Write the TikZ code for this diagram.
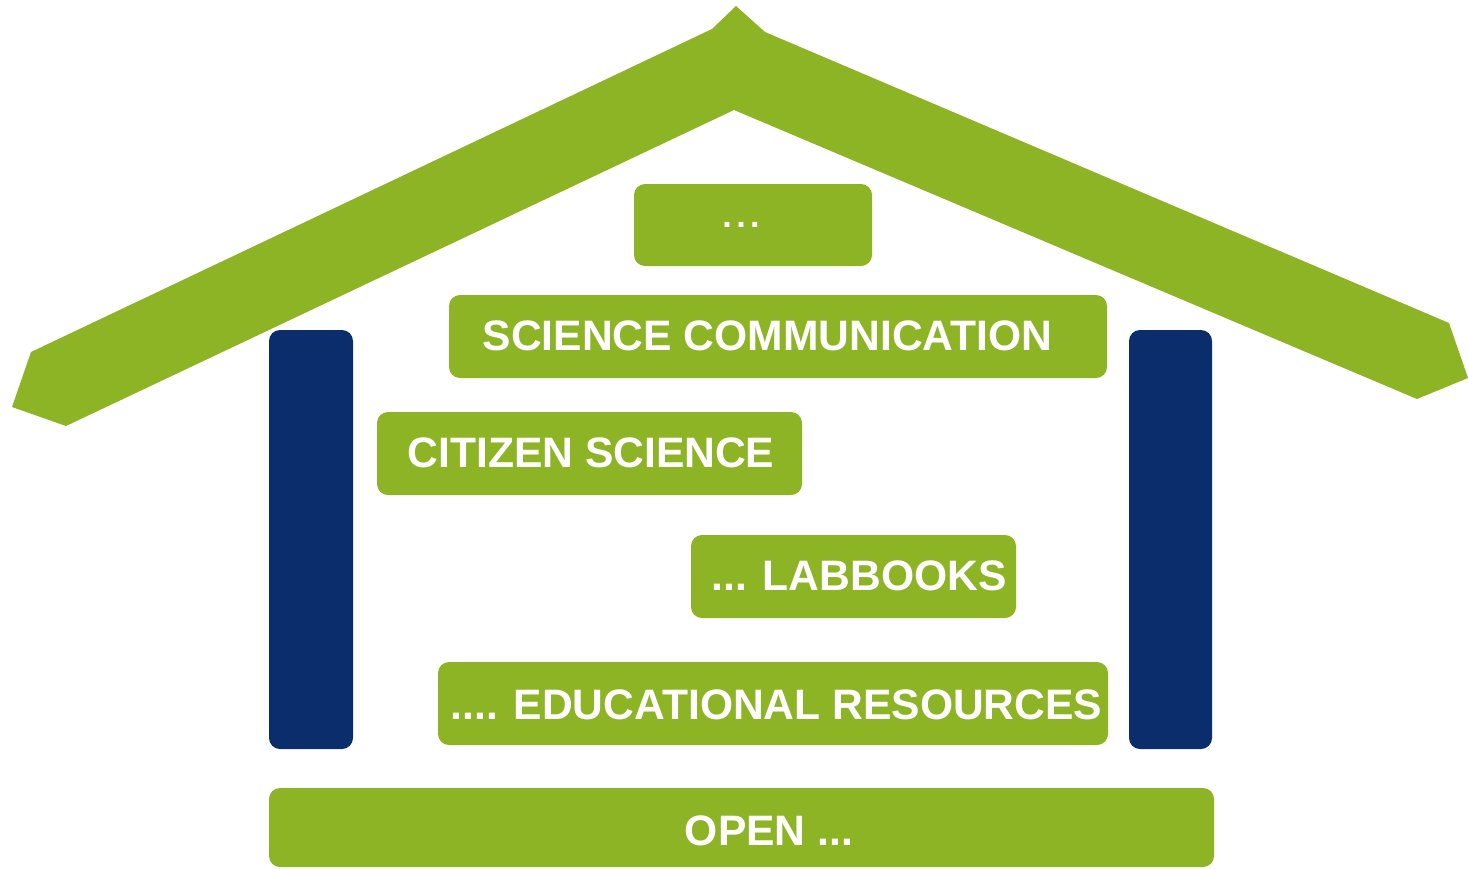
\documentclass[tikz,border=0pt]{standalone}
\usepackage{fontspec}
\setmainfont{Liberation Sans}
\definecolor{hgreen}{RGB}{141,180,37}
\definecolor{hnavy}{RGB}{11,45,107}
\begin{document}
\begin{tikzpicture}[x=1pt,y=-1pt,
  gbox/.style={fill=hgreen,draw=none,rounded corners=11pt},
  pillar/.style={fill=hnavy,draw=none,rounded corners=11pt},
  lbl/.style={text=white,font=\fontsize{42.6}{48}\selectfont\bfseries,inner sep=0pt,anchor=base}]
\useasboundingbox (0,0) rectangle (1468,868);
% roof
\fill[hgreen] (736,6) -- (765,32) -- (1449,323) -- (1468,378) -- (1417,399)
  -- (734,110) -- (66,426) -- (12,407) -- (31,352) -- (712,29) -- cycle;
% pillars
\path[pillar] (269,330) rectangle (353,749);
\path[pillar] (1129,330) rectangle (1212,749);
% boxes
\path[gbox] (634,184) rectangle (872,266);
\path[gbox] (449,295) rectangle (1107,378);
\path[gbox] (377,412) rectangle (802,495);
\path[gbox] (691,535) rectangle (1016,618);
\path[gbox] (438,662) rectangle (1108,745);
\path[gbox] (269,788) rectangle (1214,867);
% labels
\node[lbl,font=\fontsize{34}{40}\selectfont\bfseries] (t0) at (741,227) {.\kern4.5pt.\kern4.5pt.};
\node[lbl] (t1) at (767.5,350) {SCIENCE COMMUNICATION};
\node[lbl] (t2) at (591,467) {CITIZEN SCIENCE};
\node[lbl] (t3) at (859,590) {... LABBOOKS};
\node[lbl] (t4) at (776.5,719) {.... EDUCATIONAL RESOURCES};
\node[lbl] (t5) at (769,845) {OPEN ...};
\end{tikzpicture}
\end{document}
